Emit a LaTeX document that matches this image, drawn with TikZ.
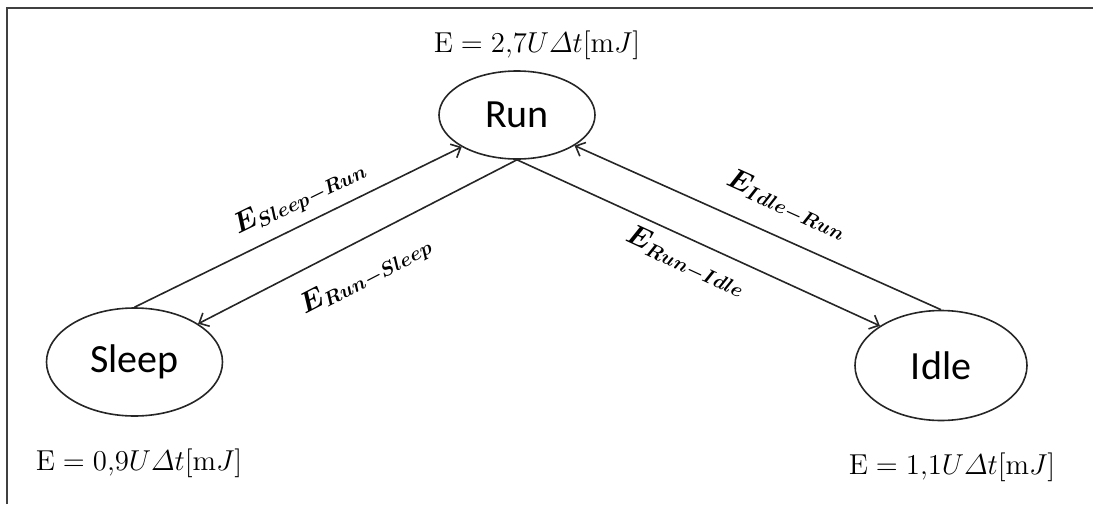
\documentclass[tikz,border=0pt]{standalone}
\usepackage{amsmath,bm}
\usepackage{fontspec}
\newfontfamily\calibri{Carlito}
\usetikzlibrary{shapes.geometric,arrows.meta}
\tikzset{
  state/.style={draw=black!85, ellipse, line width=0.8pt, inner sep=0pt,
    font=\calibri\fontsize{20}{22}\selectfont},
  conn/.style={draw=black!85, line width=0.8pt, -{Straight Barb[length=4pt,width=7.5pt,line width=0.8pt]}},
  elabel/.style={font=\fontsize{14.4}{17}\selectfont, inner sep=0pt},
  tlabel/.style={font=\fontsize{14.4}{17}\selectfont, inner sep=0pt},
  frame/.style={draw=black!75, line width=1pt}
}
\begin{document}
\begin{tikzpicture}[x=0.5pt,y=-0.5pt]
\useasboundingbox (0,0) rectangle (1093,504);
\draw[frame] (7,504) -- (7,8) -- (1093,8);
\node[state, minimum width=78pt, minimum height=44pt] (run) at (517,115) {Run};
\node[state, minimum width=88pt, minimum height=54pt] (sleep) at (134.5,362) {Sleep};
\node[state, minimum width=86pt, minimum height=55pt] (idle) at (941,365.5) {Idle};
\draw[conn] (sleep.north) -- (run.210);
\draw[conn] (run.south) -- (sleep.31);
\draw[conn] (run.south) -- (idle.147.7);
\draw[conn] (idle.north) -- (run.332.7);
\node[elabel, rotate=26.2] (lsr) at (300,198) {$\bm{E_{Sleep-Run}}$};
\node[elabel, rotate=27.4] (lrs) at (366,276) {$\bm{E_{Run-Sleep}}$};
\node[elabel, rotate=-24.8] (lri) at (686,262) {$\bm{E_{Run-Idle}}$};
\node[elabel, rotate=-24.3] (lir) at (787,205) {$\bm{E_{Idle-Run}}$};
\node[tlabel] (erun) at (537,45) {$\mathrm{E} = 2{,}7U\varDelta t[\mathrm{m}J]$};
\node[tlabel] (esleep) at (139,463) {$\mathrm{E} = 0{,}9U\varDelta t[\mathrm{m}J]$};
\node[tlabel] (eidle) at (952,467) {$\mathrm{E} = 1{,}1U\varDelta t[\mathrm{m}J]$};
\end{tikzpicture}
\end{document}
